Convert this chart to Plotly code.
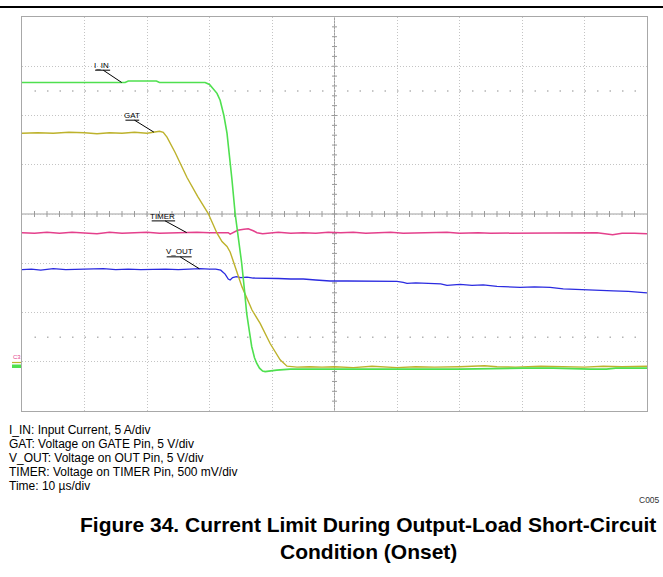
import numpy as np
import plotly.graph_objects as go

# ---------------- data (time in divisions of 10 us, amplitude in screen divisions) -------------
t_iin = [0, 0.5, 1.0, 1.65, 1.70, 2.15, 2.20, 2.6, 2.93, 3.00, 3.06, 3.12, 3.17, 3.23, 3.28, 3.33,
         3.36, 3.41, 3.47, 3.515, 3.56, 3.595, 3.64, 3.675, 3.72, 3.755, 3.80, 3.85, 3.89, 3.95,
         4.075, 4.29, 5.0, 6.0, 7.0, 8.02, 8.5, 9.09, 9.35, 9.5, 10.0]
iin = [6.67, 6.67, 6.67, 6.67, 6.70, 6.70, 6.67, 6.67, 6.67, 6.63, 6.55, 6.45, 6.31, 6.00, 5.64, 5.10,
       4.69, 4.01, 3.45, 3.00, 2.45, 1.98, 1.60, 1.31, 1.08, 0.97, 0.87, 0.81, 0.80, 0.81,
       0.83, 0.85, 0.85, 0.85, 0.85, 0.87, 0.87, 0.85, 0.85, 0.87, 0.87]

t_gat = [0, 0.25, 0.5, 0.75, 1.0, 1.2, 1.4, 1.6, 1.8, 2.0, 2.1, 2.2, 2.26, 2.32, 2.45, 2.64, 2.81,
         2.98, 3.12, 3.20, 3.28, 3.33, 3.41, 3.52, 3.68, 3.81, 3.97, 4.13, 4.24, 4.40, 4.6, 4.8,
         5.0, 5.3, 5.6, 5.9, 6.0, 6.3, 6.6, 7.0, 7.4, 7.6, 7.9, 8.3, 8.6, 9.0, 9.3, 9.6, 10.0]
gat = [5.64, 5.65, 5.64, 5.66, 5.65, 5.63, 5.65, 5.64, 5.66, 5.64, 5.66, 5.68, 5.66, 5.56, 5.25, 4.74,
       4.36, 4.01, 3.61, 3.44, 3.34, 3.23, 2.93, 2.52, 2.05, 1.78, 1.37, 1.04, 0.91, 0.89, 0.90,
       0.89, 0.90, 0.88, 0.91, 0.89, 0.88, 0.90, 0.89, 0.90, 0.92, 0.90, 0.89, 0.91, 0.90, 0.89,
       0.91, 0.90, 0.91]

t_timer = [0, 0.2, 0.4, 0.6, 0.8, 1.0, 1.2, 1.4, 1.6, 1.8, 2.0, 2.2, 2.4, 2.6, 2.8, 3.0, 3.15,
           3.30, 3.33, 3.38, 3.45, 3.55, 3.62, 3.70, 3.76, 3.85, 3.95, 4.1, 4.3, 4.5, 4.7, 4.9,
           5.1, 5.3, 5.5, 5.7, 5.9, 6.1, 6.3, 6.5, 6.8, 7.0, 7.3, 7.5, 7.7, 8.0, 8.3, 8.6, 8.8,
           9.0, 9.2, 9.45, 9.6, 9.8, 10.0]
timer = [3.62, 3.61, 3.63, 3.61, 3.63, 3.62, 3.60, 3.63, 3.61, 3.62, 3.63, 3.61, 3.62, 3.62, 3.63,
         3.62, 3.62, 3.62, 3.59, 3.62, 3.67, 3.69, 3.70, 3.66, 3.62, 3.60, 3.61, 3.63, 3.61, 3.62,
         3.61, 3.63, 3.62, 3.63, 3.61, 3.62, 3.63, 3.61, 3.62, 3.62, 3.63, 3.61, 3.62, 3.61, 3.61,
         3.62, 3.62, 3.61, 3.62, 3.61, 3.62, 3.58, 3.61, 3.61, 3.60]

t_vout = [0, 0.15, 0.3, 0.5, 0.7, 0.9, 1.1, 1.3, 1.5, 1.7, 1.9, 2.1, 2.3, 2.5, 2.7, 2.85, 3.0, 3.1,
          3.18, 3.25, 3.30, 3.33, 3.37, 3.43, 3.5, 3.6, 3.7, 3.8, 3.95, 4.1, 4.3, 4.5, 4.7, 4.93,
          5.2, 5.5, 5.8, 6.0, 6.1, 6.16, 6.3, 6.5, 6.7, 6.8, 6.9, 7.01, 7.2, 7.38, 7.6, 7.97, 8.2,
          8.45, 8.66, 8.98, 9.2, 9.46, 9.7, 10.0]
vout = [2.87, 2.88, 2.86, 2.89, 2.87, 2.88, 2.88, 2.89, 2.87, 2.88, 2.87, 2.88, 2.88, 2.87, 2.88,
        2.89, 2.88, 2.88, 2.86, 2.78, 2.68, 2.66, 2.71, 2.73, 2.71, 2.72, 2.70, 2.70, 2.69, 2.69,
        2.68, 2.68, 2.66, 2.64, 2.64, 2.64, 2.63, 2.63, 2.61, 2.59, 2.60, 2.59, 2.58, 2.55, 2.56,
        2.57, 2.55, 2.56, 2.53, 2.51, 2.52, 2.51, 2.48, 2.47, 2.46, 2.44, 2.43, 2.40]

series_names = ["I_IN", "GAT", "TIMER", "V_OUT"]
legend_lines = [
    "I_IN: Input Current, 5 A/div",
    "GAT: Voltage on GATE Pin, 5 V/div",
    "V_OUT: Voltage on OUT Pin, 5 V/div",
    "TIMER: Voltage on TIMER Pin, 500 mV/div",
    "Time: 10 µs/div",
]
title_lines = ["Figure 34. Current Limit During Output-Load Short-Circuit", "Condition (Onset)"]
code_label = "C005"

# ---------------- styling ----------------
W, H = 663, 577
L, R, T, B = 22, 647, 17, 411
FONT = "Liberation Sans, Arial, sans-serif"
C_IIN, C_GAT, C_TIMER, C_VOUT = "#4fe04f", "#bdb22c", "#e4408c", "#2b2be0"


def px(x):
    return (x - L) / (R - L)


def py(y):
    return (B - y) / (B - T)


fig = go.Figure()

# centre cross-hair tick marks (0.2 div)
tx, ty = [], []
for k in range(1, 50):
    x = k * 0.2
    tx += [x, x, None]
    ty += [4 - 0.06, 4 + 0.06, None]
for k in range(1, 40):
    y = k * 0.2
    tx += [5 - 0.04, 5 + 0.04, None]
    ty += [y, y, None]
fig.add_trace(go.Scatter(x=tx, y=ty, mode="lines", line=dict(color="#9a9a9a", width=1),
                         hoverinfo="skip", showlegend=False))

for tt, vv, col, w, nm in [
    (t_timer, timer, C_TIMER, 1.5, "TIMER"),
    (t_vout, vout, C_VOUT, 1.3, "V_OUT"),
    (t_gat, gat, C_GAT, 1.4, "GAT"),
    (t_iin, iin, C_IIN, 1.6, "I_IN"),
]:
    fig.add_trace(go.Scatter(x=tt, y=vv, mode="lines", name=nm,
                             line=dict(color=col, width=w), showlegend=False))

# trigger / level markers
fig.add_trace(go.Scatter(x=[3.36], y=[-0.07], mode="markers", cliponaxis=False,
                         marker=dict(symbol="triangle-up", size=7, color="#b0a820"),
                         hoverinfo="skip", showlegend=False))
fig.add_trace(go.Scatter(x=[10.09], y=[3.19], mode="markers", cliponaxis=False,
                         marker=dict(symbol="triangle-left", size=8, color="#b0a820"),
                         hoverinfo="skip", showlegend=False))

shapes = []
# centre lines
shapes.append(dict(type="line", xref="x", yref="y", x0=0, x1=10, y0=4, y1=4,
                   line=dict(color="#a0a0a0", width=1), layer="below"))
shapes.append(dict(type="line", xref="x", yref="y", x0=5, x1=5, y0=0, y1=8,
                   line=dict(color="#a0a0a0", width=1), layer="below"))
# dotted marker rows
for yy in (1.5, 6.5):
    shapes.append(dict(type="line", xref="x", yref="y", x0=0.2, x1=10, y0=yy, y1=yy,
                       line=dict(color="#b4b4b4", width=1.5, dash="1.5px,11px"), layer="below"))
# top rule
shapes.append(dict(type="line", xref="paper", yref="paper", x0=px(0), x1=px(663),
                   y0=py(7), y1=py(7), line=dict(color="black", width=2)))
# left channel markers
shapes.append(dict(type="rect", xref="paper", yref="paper", x0=px(12), x1=px(21),
                   y0=py(368), y1=py(364.5), fillcolor=C_IIN, line=dict(width=0)))
shapes.append(dict(type="line", xref="paper", yref="paper", x0=px(12), x1=px(21),
                   y0=py(362.5), y1=py(362.5), line=dict(color=C_GAT, width=1.2)))

annotations = []
# trace labels with underline and leader line
labels = [
    ("I_IN", t_iin, iin, 1.275, 7.01, 1.17, 1.41, 6.92, 1.30, 1.595),
    ("GAT", t_gat, gat, 1.765, 6.00, 1.655, 1.875, 5.905, 1.80, 2.11),
    ("TIMER", t_timer, timer, 2.25, 3.95, 2.075, 2.45, 3.86, 2.29, 2.635),
    ("V_OUT", t_vout, vout, 2.517, 3.235, 2.315, 2.715, 3.13, 2.53, 2.837),
]
for name, tt, vv, lx, ly, u0, u1, uy, s0, e0 in labels:
    annotations.append(dict(x=lx, y=ly, xref="x", yref="y", text=name, showarrow=False,
                            font=dict(family=FONT, size=8, color="black"),
                            xanchor="center", yanchor="middle"))
    shapes.append(dict(type="line", xref="x", yref="y", x0=u0, x1=u1, y0=uy, y1=uy,
                       line=dict(color="black", width=1)))
    ye = float(np.interp(e0, tt, vv))
    shapes.append(dict(type="line", xref="x", yref="y", x0=s0, x1=e0, y0=uy, y1=ye,
                       line=dict(color="black", width=1)))

annotations.append(dict(x=px(16.5), y=py(356.5), xref="paper", yref="paper", text="C3",
                        showarrow=False, font=dict(family=FONT, size=6, color=C_TIMER),
                        xanchor="center", yanchor="middle"))

for i, line in enumerate(legend_lines):
    annotations.append(dict(x=px(7), y=py(430 + 14 * i), xref="paper", yref="paper",
                            text=line, showarrow=False, xanchor="left", yanchor="middle",
                            font=dict(family=FONT, size=12, color="black")))

annotations.append(dict(x=px(662), y=py(500.5), xref="paper", yref="paper", text=code_label,
                        showarrow=False, xanchor="right", yanchor="middle",
                        font=dict(family=FONT, size=8.5, color="#333333")))

for i, line in enumerate(title_lines):
    annotations.append(dict(x=px(368), y=py(524.5 + 26.7 * i), xref="paper", yref="paper",
                            text="<b>" + line + "</b>", showarrow=False, xanchor="center",
                            yanchor="middle", font=dict(family=FONT, size=21, color="black")))

axis_common = dict(showticklabels=False, ticks="", showline=True, mirror=True,
                   linecolor="#a8a8a8", linewidth=1, showgrid=True, gridcolor="#c4c4c4",
                   gridwidth=1, griddash="1px,2px", zeroline=False, fixedrange=True)

fig.update_layout(
    width=W, height=H,
    margin=dict(l=L, r=W - R, t=T, b=H - B),
    paper_bgcolor="white", plot_bgcolor="white",
    xaxis=dict(range=[0, 10], dtick=1, tick0=0, **axis_common),
    yaxis=dict(range=[0, 8], dtick=1, tick0=0, **axis_common),
    shapes=shapes, annotations=annotations, showlegend=False,
)

fig.write_html("out.html", config={"displayModeBar": False},
               post_script="document.body.style.margin='0px';document.body.style.overflow='hidden';")
